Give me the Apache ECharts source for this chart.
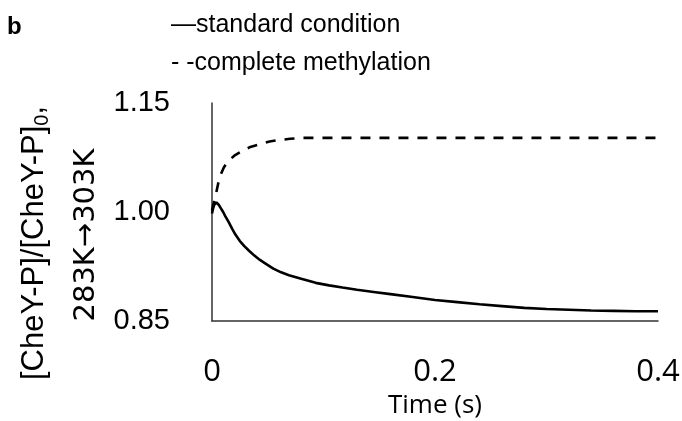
<!DOCTYPE html>
<html><head><meta charset="utf-8">
<script src="https://cdn.jsdelivr.net/npm/echarts@6/dist/echarts.min.js"></script>
<style>html,body{margin:0;padding:0;background:#fff}#c{width:682px;height:421px}</style>
</head><body><div id="c"></div>
<script>
// Data
const timeStandard = [0, 0.001, 0.002, 0.003, 0.004, 0.005, 0.006, 0.008, 0.010, 0.012, 0.015, 0.018, 0.021, 0.025, 0.029, 0.033, 0.038, 0.043, 0.048, 0.055, 0.062, 0.069, 0.080, 0.093, 0.105, 0.117, 0.130, 0.145, 0.160, 0.180, 0.200, 0.220, 0.240, 0.260, 0.280, 0.300, 0.320, 0.340, 0.360, 0.380, 0.400];
const standardCondition = [0.998, 1.005, 1.010, 1.0125, 1.013, 1.012, 1.010, 1.005, 1.000, 0.994, 0.986, 0.977, 0.969, 0.960, 0.953, 0.947, 0.940, 0.934, 0.929, 0.922, 0.917, 0.913, 0.908, 0.9025, 0.899, 0.896, 0.893, 0.890, 0.887, 0.883, 0.879, 0.876, 0.873, 0.8705, 0.868, 0.8665, 0.8655, 0.8645, 0.864, 0.8635, 0.8635];
const timeMethyl = [0, 0.001, 0.002, 0.0036, 0.0055, 0.0081, 0.0105, 0.0126, 0.016, 0.020, 0.026, 0.0336, 0.042, 0.0516, 0.060, 0.070, 0.082, 0.100, 0.150, 0.200, 0.250, 0.300, 0.350, 0.400];
const completeMethylation = [1.002, 1.009, 1.015, 1.025, 1.039, 1.0526, 1.061, 1.066, 1.072, 1.0775, 1.083, 1.089, 1.093, 1.097, 1.099, 1.1007, 1.102, 1.102, 1.102, 1.102, 1.102, 1.102, 1.102, 1.102];
const yTicks = [0.85, 1.00, 1.15];
const xTicks = [0, 0.2, 0.4];
const seriesNames = ['standard condition', 'complete methylation'];

const chart = echarts.init(document.getElementById('c'));
const zip = (xs, ys) => xs.map((x, i) => [x, ys[i]]);
chart.setOption({
  animation: false,
  backgroundColor: '#fff',
  grid: { left: 212, right: 24, top: 103, bottom: 100, containLabel: false, outerBoundsMode: 'none' },
  xAxis: {
    type: 'value', min: xTicks[0], max: xTicks[xTicks.length - 1], interval: 0.2,
    axisLine: { lineStyle: { color: '#333', width: 1.5 } },
    axisTick: { show: false }, splitLine: { show: false },
    axisLabel: { fontFamily: 'Open Sans', fontSize: 31, color: '#000', margin: 36,
      formatter: v => String(v) },
    name: 'Time (s)', nameLocation: 'middle', nameGap: 72,
    nameTextStyle: { fontFamily: 'Open Sans', fontSize: 26, color: '#000' }
  },
  yAxis: {
    type: 'value', min: yTicks[0], max: yTicks[yTicks.length - 1], interval: 0.15,
    axisLine: { show: true, lineStyle: { color: '#333', width: 1.5 } },
    axisTick: { show: false }, splitLine: { show: false },
    axisLabel: { fontFamily: 'Liberation Sans', fontSize: 29, color: '#000', margin: 42,
      formatter: v => v.toFixed(2) }
  },
  graphic: [
    { type: 'text', left: 7, top: 15, style: { text: 'b', font: 'bold 24px "Liberation Sans"', fill: '#000' } },
    { type: 'text', left: 171, top: 13, style: { text: '\u2014' + seriesNames[0], font: '25px "Liberation Sans"', fill: '#000' } },
    { type: 'text', left: 171, top: 51, style: { text: '- -' + seriesNames[1], font: '25px "Liberation Sans"', fill: '#000' } },
    { type: 'text', x: 34, y: 243, rotation: Math.PI / 2, style: {
        text: '{a|[CheY-P]/[CheY-P]}{s|0}{a|,}', align: 'center', verticalAlign: 'middle',
        rich: { a: { font: '31px "Liberation Sans"', fill: '#000' },
                s: { font: '20px "Liberation Sans"', fill: '#000', padding: [16, 0, 0, 0] } } } },
    { type: 'text', x: 86, y: 235, rotation: Math.PI / 2, style: {
        text: '283K\u2192303K', align: 'center', verticalAlign: 'middle',
        font: '29px "DejaVu Sans"', fill: '#000' } }
  ],
  series: [
    { name: seriesNames[0], type: 'line', data: zip(timeStandard, standardCondition), showSymbol: false,
      smooth: false, lineStyle: { color: '#000', width: 2.6 } },
    { name: seriesNames[1], type: 'line', data: zip(timeMethyl, completeMethylation), showSymbol: false,
      smooth: false, lineStyle: { color: '#000', width: 2.6, type: [10, 9] } }
  ]
});
</script></body></html>
